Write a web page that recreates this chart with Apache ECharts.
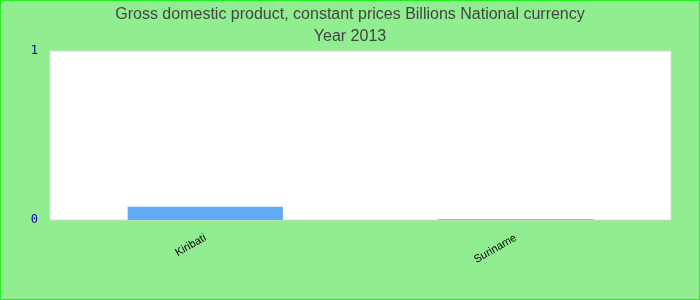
<!DOCTYPE html>
<html><head><meta charset="utf-8">
<script src="https://cdn.jsdelivr.net/npm/echarts@6/dist/echarts.min.js"></script>
<style>html,body{margin:0;padding:0;background:#90EE90;}#c{width:698px;height:298px;border:1px solid #22ee22;}</style>
</head><body><div id="c"></div>
<script>
const categories = ["Kiribati", "Suriname"];
const values = [0.078, 0.004];
const yTicks = [0, 1];
const chart = echarts.init(document.getElementById('c'));
chart.setOption({
  animation: false,
  backgroundColor: '#90EE90',
  title: {
    text: 'Gross domestic product, constant prices Billions National currency\nYear 2013',
    left: 'center', top: -2,
    textStyle: {fontFamily: 'Liberation Sans', fontSize: 16, fontWeight: 'normal', color: '#444444', lineHeight: 22}
  },
  grid: {left: 49, right: 28, top: 50, bottom: 79, show: true, backgroundColor: '#ffffff', borderColor: '#d8d8d8', borderWidth: 1},
  xAxis: {
    type: 'category', data: categories,
    axisLine: {show: false}, axisTick: {show: false},
    axisLabel: {rotate: 30, fontSize: 11, color: '#000', fontFamily: 'Liberation Sans', margin: 17}
  },
  yAxis: {
    type: 'value', min: yTicks[0], max: yTicks[1], interval: 1,
    splitLine: {show: false}, axisLine: {show: false}, axisTick: {show: false},
    axisLabel: {fontFamily: 'DejaVu Sans Mono', fontSize: 12, color: '#0000aa', margin: 12}
  },
  series: [{type: 'bar', data: values, barWidth: '50%', itemStyle: {color: '#63aaf5'}}]
});
</script></body></html>
